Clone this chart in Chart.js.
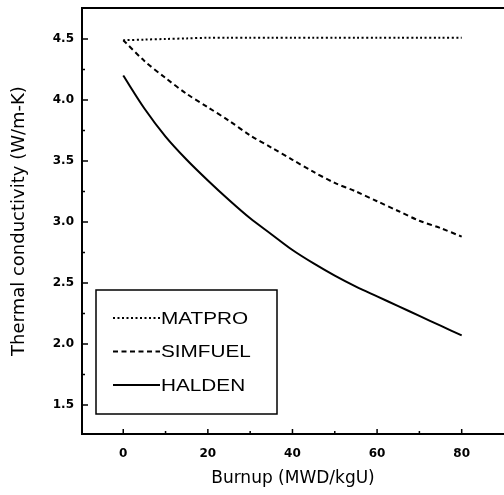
<!DOCTYPE html>
<html>
<head>
<meta charset="utf-8">
<script src="https://cdn.jsdelivr.net/npm/chart.js@4/dist/chart.umd.min.js"></script>
<style>
  html, body { margin: 0; padding: 0; background: #fff; }
  #wrap { width: 504px; height: 495px; }
</style>
</head>
<body>
<div id="wrap"><canvas id="chart" width="504" height="495"></canvas></div>
<script>
// burnup (MWD/kgU)
const burnup = [0, 5, 10, 15, 20, 25, 30, 35, 40, 45, 50, 55, 60, 65, 70, 75, 80]
// thermal conductivity (W/m-K)
const matpro  = [4.49, 4.495, 4.50, 4.505, 4.51, 4.51, 4.51, 4.51, 4.51, 4.51, 4.51, 4.51, 4.51, 4.51, 4.51, 4.51, 4.51]
const simfuel = [4.49, 4.32, 4.18, 4.05, 3.94, 3.83, 3.71, 3.61, 3.51, 3.41, 3.32, 3.25, 3.17, 3.09, 3.01, 2.95, 2.88]
const halden  = [4.20, 3.93, 3.70, 3.51, 3.34, 3.18, 3.03, 2.90, 2.77, 2.66, 2.56, 2.47, 2.39, 2.31, 2.23, 2.15, 2.07]

const xTicks = [0, 20, 40, 60, 80]
const xMinor = [10, 30, 50, 70]
const yTicks = [1.5, 2.0, 2.5, 3.0, 3.5, 4.0, 4.5]
const yMinor = [1.75, 2.25, 2.75, 3.25, 3.75, 4.25]

const toPoints = ys => burnup.map((x, i) => ({x, y: ys[i]}))

// inward tick marks, top frame line and the boxed legend
const framePlugin = {
  id: 'frame',
  afterDraw(chart) {
    const {ctx, chartArea: a, scales: {x, y}} = chart
    ctx.save()
    ctx.strokeStyle = '#000'
    ctx.lineWidth = 2
    ctx.beginPath()
    ctx.moveTo(a.left, a.top)
    ctx.lineTo(a.right, a.top)
    ctx.stroke()

    ctx.lineWidth = 1.5
    ctx.beginPath()
    xTicks.forEach(v => {
      const px = x.getPixelForValue(v)
      ctx.moveTo(px, a.bottom); ctx.lineTo(px, a.bottom - 5)
    })
    xMinor.forEach(v => {
      const px = x.getPixelForValue(v)
      ctx.moveTo(px, a.bottom); ctx.lineTo(px, a.bottom - 3)
    })
    yTicks.forEach(v => {
      const py = y.getPixelForValue(v)
      ctx.moveTo(a.left, py); ctx.lineTo(a.left + 6, py)
    })
    yMinor.forEach(v => {
      const py = y.getPixelForValue(v)
      ctx.moveTo(a.left, py); ctx.lineTo(a.left + 3, py)
    })
    ctx.stroke()

    // legend
    ctx.lineWidth = 1.5
    ctx.strokeRect(96, 290, 181, 124)
    ctx.fillStyle = '#000'
    ctx.textBaseline = 'alphabetic'
    chart.data.datasets.forEach((ds, i) => {
      const ly = 318 + i * 33.5
      ctx.setLineDash(ds.borderDash || [])
      ctx.lineWidth = ds.borderWidth
      ctx.beginPath()
      ctx.moveTo(113, ly)
      ctx.lineTo(160, ly)
      ctx.stroke()
      ctx.setLineDash([])
      // the scanned lettering is wide, so stretch it a bit
      ctx.save()
      ctx.translate(161, ly + 5.5)
      ctx.scale(1.22, 1)
      ctx.font = '17px "Liberation Sans"'
      ctx.fillText(ds.label, 0, 0)
      ctx.restore()
    })
    ctx.restore()
  }
}

const tickFont = {family: '"DejaVu Sans"', weight: 'bold', size: 12}

new Chart(document.getElementById('chart'), {
  type: 'line',
  data: {
    datasets: [
      {label: 'MATPRO', data: toPoints(matpro), borderColor: '#000', borderWidth: 2, borderDash: [2, 2.5], pointRadius: 0, tension: 0.3, fill: false},
      {label: 'SIMFUEL', data: toPoints(simfuel), borderColor: '#000', borderWidth: 2, borderDash: [5, 3.5], pointRadius: 0, tension: 0.3, fill: false},
      {label: 'HALDEN', data: toPoints(halden), borderColor: '#000', borderWidth: 2, pointRadius: 0, tension: 0.3, fill: false}
    ]
  },
  options: {
    responsive: false,
    animation: false,
    devicePixelRatio: 1,
    layout: {padding: {top: 8, right: 0, left: 0, bottom: 0}},
    plugins: {legend: {display: false}, tooltip: {enabled: false}},
    scales: {
      x: {
        type: 'linear',
        min: -9.75,
        max: 90,
        afterBuildTicks: s => { s.ticks = xTicks.map(v => ({value: v})) },
        afterFit: s => { s.height = 61; s.paddingLeft = 0; s.paddingRight = 0 },
        grid: {display: false, drawTicks: false},
        border: {display: true, color: '#000', width: 2},
        ticks: {color: '#000', font: tickFont, padding: 13, maxRotation: 0, autoSkip: false},
        title: {display: true, text: 'Burnup (MWD/kgU)', color: '#000', font: {family: '"DejaVu Sans"', size: 17}, padding: {top: 0, bottom: 6}}
      },
      y: {
        min: 1.262,
        max: 4.754,
        afterBuildTicks: s => { s.ticks = yTicks.map(v => ({value: v})) },
        afterFit: s => { s.width = 82; s.paddingTop = 0; s.paddingBottom = 0 },
        grid: {display: false, drawTicks: false},
        border: {display: true, color: '#000', width: 2},
        ticks: {color: '#000', font: tickFont, padding: 8, callback: v => v.toFixed(1)},
        title: {display: true, text: 'Thermal conductivity (W/m-K)', color: '#000', font: {family: '"DejaVu Sans"', size: 18}, padding: {top: 9, bottom: 0}}
      }
    }
  },
  plugins: [framePlugin]
})
</script>
</body>
</html>
